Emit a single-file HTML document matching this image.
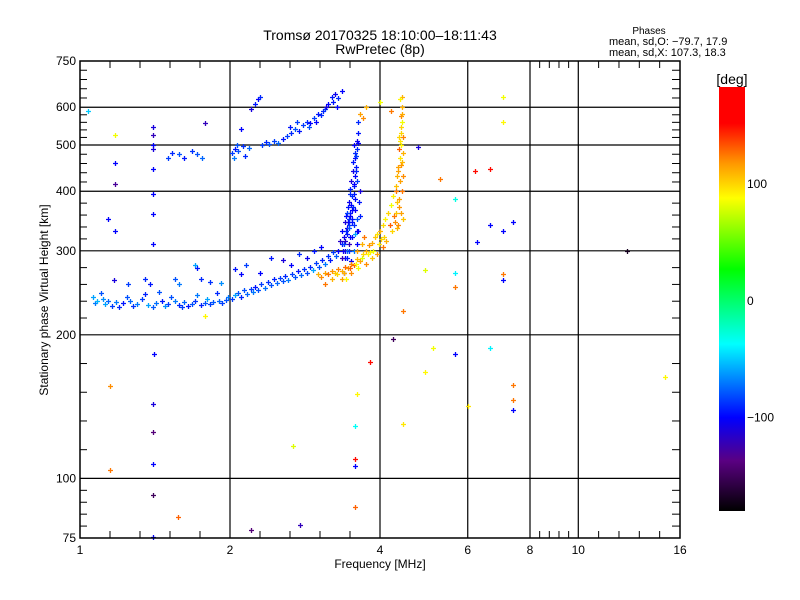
<!DOCTYPE html>
<html><head><meta charset="utf-8">
<style>
html,body{margin:0;padding:0;background:#fff;}
svg{display:block;font-family:"Liberation Sans","DejaVu Sans",sans-serif;}
</style></head>
<body>
<svg id="chart" width="800" height="600" viewBox="0 0 800 600" xmlns="http://www.w3.org/2000/svg">
<defs>
<linearGradient id="cbgrad" x1="0" y1="1" x2="0" y2="0"></linearGradient>
</defs>
<rect x="0" y="0" width="800" height="600" fill="#fff"/>
<text x="380" y="40" font-size="14" text-anchor="middle">Tromsø 20170325 18:10:00–18:11:43</text>
<text x="380" y="54" font-size="14" text-anchor="middle">RwPretec (8p)</text>
<text x="649" y="34" font-size="10" text-anchor="middle">Phases</text>
<text x="609" y="45" font-size="11">mean, sd,O: −79.7, 17.9</text>
<text x="609" y="56" font-size="11">mean, sd,X: 107.3, 18.3</text>
<g id="grid"></g>
<g id="ticks"></g>
<g id="points"></g>
<rect x="80" y="61" width="600" height="477" fill="none" stroke="#000" stroke-width="1.5"/>
<g id="xlabels"></g>
<g id="ylabels"></g>
<text x="380" y="568" font-size="12" text-anchor="middle">Frequency [MHz]</text>
<text transform="translate(48,300) rotate(-90)" font-size="12" text-anchor="middle">Stationary phase Virtual Height [km]</text>
<text x="732" y="84" font-size="14" text-anchor="middle">[deg]</text>
<rect x="719" y="87" width="26" height="424" fill="url(#cbgrad)"/>
<g id="cblabels"></g>
</svg>
<script>
const xTicks = [1, 2, 4, 6, 8, 10, 16];
const yTicks = [75, 100, 200, 300, 400, 500, 600, 750];
const yGrid = [100, 200, 300, 400, 500, 600];
const xGrid = [2, 4, 6, 8, 10];
const cbTicks = [100, 0, -100];

const freqs = [
1.06,1.07,1.08,1.10,1.11,1.12,1.14,1.16,1.18,1.20,1.22,1.24,1.26,1.28,1.30,1.33,1.35,1.37,1.40,1.42,1.44,1.46,1.48,1.50,1.52,1.55,1.58,1.60,1.62,1.65,1.68,1.70,1.72,1.75,1.78,1.80,1.82,1.85,1.88,1.90,1.93,1.96,1.98,2.02,2.05,2.08,2.10,2.13,2.16,2.20,2.22,2.25,2.28,2.31,2.35,2.38,2.42,2.45,2.48,2.52,2.55,2.58,2.62,2.66,2.70,2.74,2.78,2.82,2.86,2.90,2.94,2.98,3.02,3.06,3.10,3.14,3.18,3.22,3.26,
1.35,1.38,1.55,1.58,1.75,1.82,1.92,2.05,2.10,2.15,2.30,2.42,2.55,2.65,2.75,2.85,2.95,3.05,1.17,1.25,1.70,1.72,
3.30,3.35,3.38,3.42,3.45,3.40,3.48,3.50,3.52,3.46,3.54,3.56,3.50,3.58,3.57,3.60,3.59,3.61,3.55,3.62,3.44,3.36,3.32,3.53,3.48,3.42,3.58,3.62,3.46,3.55,3.40,3.52,3.60,3.65,3.63,3.38,3.50,3.62,3.56,3.51,
3.44,3.47,3.49,3.53,3.57,3.43,3.46,3.51,3.55,3.59,3.41,3.45,3.49,3.54,3.58,3.39,3.44,3.48,3.53,3.57,3.37,3.41,3.47,3.52,3.56,3.60,3.64,3.35,3.43,3.47,3.54,3.59,
1.50,1.53,1.58,1.62,1.68,1.72,1.76,2.02,2.05,2.08,2.12,2.32,2.36,2.40,2.45,2.50,2.55,2.60,2.65,2.70,2.75,2.80,2.85,2.90,2.95,3.00,3.05,3.10,3.15,3.20,3.25,3.30,3.35,2.25,2.28,2.30,2.20,2.10,1.78,
2.04,2.07,2.14,2.18,2.64,2.72,2.88,2.97,3.07,3.12,3.22,3.28,
3.00,3.05,3.10,3.15,3.20,3.25,3.30,3.35,3.40,3.45,3.50,3.55,3.60,3.65,3.70,3.75,3.80,3.85,3.90,3.95,4.00,4.05,4.10,4.15,4.20,4.25,4.30,4.33,4.35,4.38,4.40,4.40,4.42,4.43,4.36,4.39,4.32,4.28,4.22,4.12,4.05,3.95,3.85,3.75,4.45,4.43,4.40,4.45,4.35,3.68,3.72,3.60,3.50,3.20,3.10,3.35,4.40,4.42,4.20,3.65,3.70,3.75,
4.30,4.34,4.37,4.41,4.44,4.31,4.36,4.40,4.43,4.38,4.42,4.36,4.44,4.33,4.26,4.18,4.08,3.98,3.88,3.78,3.68,3.58,3.48,3.38,3.28,3.42,3.62,3.82,4.02,
1.04,1.175,1.175,1.175,1.40,1.40,1.40,1.40,1.40,1.40,1.40,1.40,1.14,1.175,1.41,1.40,1.40,1.40,1.40,1.40,1.15,1.15,1.57,1.78,2.2,2.76,2.68,4.25,3.82,3.6,3.57,3.57,3.57,3.57,4.44,4.44,5.1,4.93,4.93,5.65,6.0,5.65,5.65,5.65,6.65,6.65,6.65,7.05,7.05,7.05,7.05,7.05,7.4,7.4,7.4,7.4,6.27,12.5,14.9,4.39,4.0,5.28,4.76,6.2
];
const heights = [
240,233,236,245,238,232,236,230,234,229,233,240,236,230,232,238,244,231,229,233,246,235,230,232,240,236,231,229,234,230,232,236,242,231,233,238,232,234,245,236,233,237,240,238,242,245,240,248,244,250,246,252,248,255,251,258,254,262,257,263,259,266,261,268,264,272,267,275,270,278,274,283,278,287,282,292,287,298,293,
262,256,262,255,262,258,257,275,268,280,270,290,287,280,295,290,300,305,260,255,280,276,
300,310,320,330,345,300,360,375,390,380,410,430,420,450,470,490,510,530,500,560,360,330,315,440,405,355,475,505,310,340,290,320,350,400,380,270,285,330,365,350,
325,340,355,370,385,335,350,365,395,420,345,370,395,415,440,310,300,320,460,480,300,315,335,345,325,310,355,290,290,300,300,330,
470,480,478,470,485,478,470,480,490,485,498,500,508,503,510,505,515,522,530,540,535,550,560,556,570,580,578,595,610,630,640,628,650,610,625,630,595,540,555,
470,500,475,492,545,560,545,560,590,600,615,600,
268,265,270,268,272,270,275,272,278,276,282,280,288,286,295,300,308,312,320,325,330,340,350,360,375,390,410,430,450,470,500,530,560,600,520,420,380,345,330,315,305,295,290,282,480,400,360,350,340,310,320,300,270,262,256,262,575,630,590,580,570,600,
400,440,490,455,520,360,385,545,580,510,460,370,430,335,355,340,320,310,300,295,290,282,276,270,268,262,276,298,318,
590,525,458,415,545,525,500,490,445,395,358,310,350,330,182,143,125,107,92.5,75.5,156,104,83,219,78,80,117,196,175,150,129,110,106,87,224,130,188,167,273,182,142,385,252,270,188,445,340,330,260,268,630,560,345,157,146,139,313,300,163,625,615,425,495,440
];
const phases = [
-60,-70,-55,-80,-65,-60,-75,-85,-70,-90,-95,-80,-75,-88,-70,-85,-92,-60,-78,-72,-80,-95,-65,-85,-80,-70,-90,-85,-75,-95,-80,-88,-70,-92,-80,-60,-85,-78,-90,-75,-85,-80,-70,-85,-60,-78,-90,-80,-75,-85,-70,-95,-80,-85,-72,-88,-80,-92,-75,-85,-80,-90,-70,-85,-80,-95,-75,-88,-82,-90,-60,-85,-80,-92,-70,-88,-95,-85,-78,
-90,-95,-80,-70,-90,-88,-65,-95,-100,-85,-100,-95,-110,-100,-90,-105,-95,-100,-110,-85,-60,-95,
-100,-95,-105,-90,-100,-110,-95,-100,-90,-105,-95,-100,-110,-95,-100,-90,-105,-95,-100,-90,-85,-100,-115,-108,-92,-98,-85,-100,-120,-90,-100,-95,-80,-110,-95,-120,-105,-100,-102,-96,
-95,-88,-102,-92,-98,-105,-90,-100,-94,-86,-110,-96,-90,-100,-92,-85,-70,-100,-95,-90,-105,-115,-80,-96,-60,-100,-92,-120,-95,-88,-70,-104,
-85,-90,-80,-95,-88,-80,-75,-85,-95,-80,-88,-85,-90,-80,-85,-75,-95,-85,-90,-80,-95,-85,-90,-100,-85,-95,-90,-85,-100,-95,-105,-90,-100,-95,-100,-90,-110,-100,-120,
-70,-80,-90,-75,-95,-85,-80,-100,-90,-110,-95,-100,
110,120,115,125,118,105,122,112,128,116,120,130,108,114,100,110,118,112,104,96,110,98,90,100,85,92,106,110,115,
95,90,100,85,110,100,115,105,120,100,110,125,115,105,120,110,125,115,105,120,110,125,115,120,110,125,115,120,110,125,115,120,110,125,115,130,118,122,105,115,100,112,95,108,118,120,110,125,130,100,95,85,90,80,88,130,110,100,90,85,90,100,
-50,85,-100,-130,-110,-120,-100,-110,-100,-100,-100,-100,-100,-100,-100,-110,-140,-100,-150,-100,120,125,130,90,-140,-120,80,-150,150,90,-35,150,-100,130,125,95,85,90,80,-100,95,-30,125,-40,-40,150,-100,-100,-100,125,85,90,-100,125,125,-100,-100,-170,90,90,85,125,-110,150
];

const svgNS = "http://www.w3.org/2000/svg";
const L = 80, R = 680, T = 61, B = 538;
function xs(f){ return L + (R - L) * Math.log2(f) / 4; }
function ys(h){ return B - (B - T) * Math.log10(h / 75); }

const cmapStops = [[-180,[0,0,0]],[-137,[90,0,130]],[-100,[0,0,255]],[-37,[0,255,255]],[27,[0,255,0]],[88,[255,255,0]],[118,[255,150,0]],[152,[255,0,0]],[183,[255,0,0]]];
function color(d){
  if (d <= cmapStops[0][0]) return 'rgb(0,0,0)';
  for (let i=1;i<cmapStops.length;i++){
    if (d <= cmapStops[i][0]){
      const a=cmapStops[i-1], b=cmapStops[i];
      const t=(d-a[0])/(b[0]-a[0]);
      const c=a[1].map((v,k)=>Math.round(v+(b[1][k]-v)*t));
      return 'rgb('+c.join(',')+')';
    }
  }
  return 'rgb(255,0,0)';
}
const grad = document.getElementById('cbgrad');
cmapStops.forEach(s=>{
  const st=document.createElementNS(svgNS,'stop');
  st.setAttribute('offset', ((s[0]+180)/363*100)+'%');
  st.setAttribute('stop-color','rgb('+s[1].join(',')+')');
  grad.appendChild(st);
});
function cbY(d){ return 511 - (d + 180) / 363 * 424; }
const cbl = document.getElementById('cblabels');
cbTicks.forEach(v=>{
  const t=document.createElementNS(svgNS,'text');
  
  
  t.setAttribute('x',747); t.setAttribute('y',cbY(v)+4);
  t.setAttribute('font-size','12');
  t.textContent = v < 0 ? '−' + (-v) : String(v);
  cbl.appendChild(t);
});

function line(g,x1,y1,x2,y2,w,name){
  const l=document.createElementNS(svgNS,'line');
  
  
  l.setAttribute('x1',x1);l.setAttribute('y1',y1);l.setAttribute('x2',x2);l.setAttribute('y2',y2);
  l.setAttribute('stroke','#000');l.setAttribute('stroke-width',w);
  g.appendChild(l);
}
const grid=document.getElementById('grid');
xGrid.forEach(f=>line(grid,xs(f),T,xs(f),B,1.2,'x-grid-line'));
yGrid.forEach(h=>line(grid,L,ys(h),R,ys(h),1.2,'y-grid-line'));

const ticks=document.getElementById('ticks');
const xMinorIntervals=[[1,2],[2,4],[8,10],[10,16]];
xMinorIntervals.forEach(iv=>{
  const a=xs(iv[0]), b=xs(iv[1]);
  for(let k=1;k<5;k++){
    const x=a+(b-a)*k/5;
    line(ticks,x,B,x,B-7,1,'x-minor-tick');
    line(ticks,x,T,x,T+7,1,'x-minor-tick');
  }
});
for(let i=0;i<yTicks.length-1;i++){
  const a=ys(yTicks[i]), b=ys(yTicks[i+1]);
  for(let k=1;k<5;k++){
    const y=a+(b-a)*k/5;
    line(ticks,L,y,L+7,y,1,'y-minor-tick');
    line(ticks,R,y,R-8,y,1,'y-minor-tick');
  }
}

const xl=document.getElementById('xlabels');
xTicks.forEach(f=>{
  const t=document.createElementNS(svgNS,'text');
  
  
  t.setAttribute('x',xs(f)); t.setAttribute('y',554);
  t.setAttribute('font-size','12'); t.setAttribute('text-anchor','middle');
  t.textContent=String(f);
  xl.appendChild(t);
});
const yl=document.getElementById('ylabels');
yTicks.forEach(h=>{
  const t=document.createElementNS(svgNS,'text');
  
  
  t.setAttribute('x',76); t.setAttribute('y',ys(h)+4);
  t.setAttribute('font-size','12'); t.setAttribute('text-anchor','end');
  t.textContent=String(h);
  yl.appendChild(t);
});

const pts=document.getElementById('points');
for(let i=0;i<freqs.length;i++){
  const x=Math.round(xs(freqs[i]))+0.5, y=Math.round(ys(heights[i]))+0.5;
  const p=document.createElementNS(svgNS,'path');
  
  
  p.setAttribute('d','M'+(x-2.5)+' '+y+'H'+(x+2.5)+'M'+x+' '+(y-2.5)+'V'+(y+2.5));
  p.setAttribute('stroke',color(phases[i]));
  p.setAttribute('stroke-width','1.3');
  pts.appendChild(p);
}
</script>
</body></html>
